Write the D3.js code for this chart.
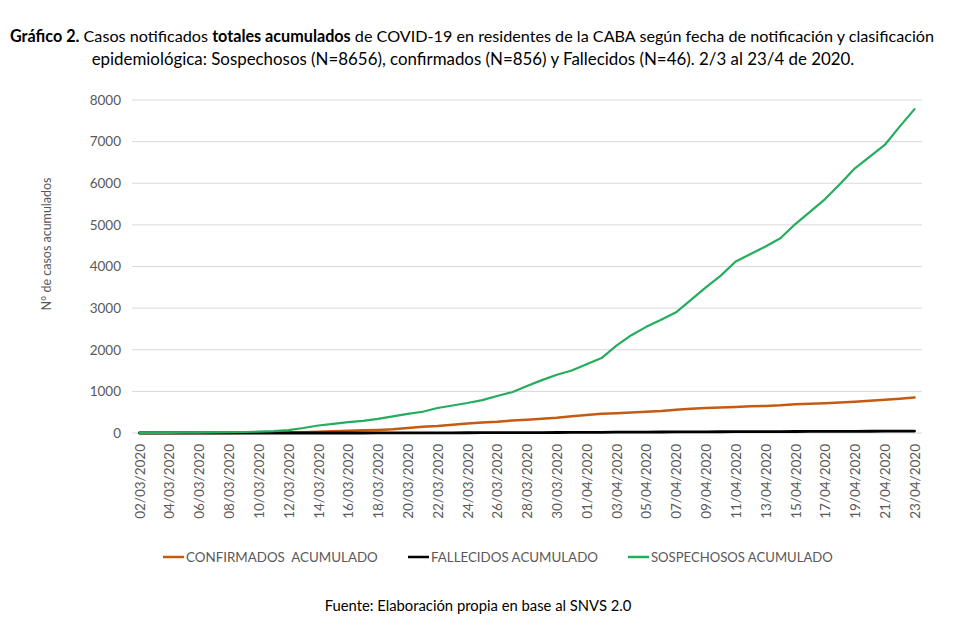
<!DOCTYPE html>
<html><head><meta charset="utf-8">
<script src="https://cdn.jsdelivr.net/npm/d3@7"></script>
<style>
body{margin:0;background:#fff}
svg{display:block}
text{font-family:Lato,"Open Sans","Noto Sans",sans-serif}
</style>
</head><body>
<svg id="c" width="960" height="640"></svg>
<script>
const dates = [
 "02/03/2020","03/03/2020","04/03/2020","05/03/2020","06/03/2020","07/03/2020","08/03/2020","09/03/2020",
 "10/03/2020","11/03/2020","12/03/2020","13/03/2020","14/03/2020","15/03/2020","16/03/2020","17/03/2020",
 "18/03/2020","19/03/2020","20/03/2020","21/03/2020","22/03/2020","23/03/2020","24/03/2020","25/03/2020",
 "26/03/2020","27/03/2020","28/03/2020","29/03/2020","30/03/2020","31/03/2020","01/04/2020","02/04/2020",
 "03/04/2020","04/04/2020","05/04/2020","06/04/2020","07/04/2020","08/04/2020","09/04/2020","10/04/2020",
 "11/04/2020","12/04/2020","13/04/2020","14/04/2020","15/04/2020","16/04/2020","17/04/2020","18/04/2020",
 "19/04/2020","20/04/2020","21/04/2020","22/04/2020","23/04/2020"];
const sospechosos = [0,1,3,6,10,14,18,24,32,45,70,120,180,220,260,290,340,400,460,510,600,660,720,790,
 890,980,1130,1270,1400,1500,1650,1800,2100,2350,2550,2720,2900,3200,3500,3780,4120,4300,4480,4680,
 5020,5320,5620,5980,6360,6640,6920,7360,7780];
const confirmados = [0,0,0,0,0,1,2,4,6,10,14,20,30,40,55,65,75,90,120,150,170,200,230,250,270,300,320,
 340,365,400,430,460,475,490,510,530,560,580,600,610,625,640,650,665,690,700,715,730,750,775,800,825,850];
const fallecidos = [0,0,0,0,0,0,0,0,0,0,0,0,0,0,0,0,1,2,3,4,4,5,6,7,8,9,10,11,12,13,15,17,19,20,22,24,
 25,27,29,30,31,33,34,35,36,38,39,40,41,42,43,44,46];
const yTicks = [0,1000,2000,3000,4000,5000,6000,7000,8000];
const legendLabels = ["CONFIRMADOS  ACUMULADO","FALLECIDOS ACUMULADO","SOSPECHOSOS ACUMULADO"];
const colors = ["#c55a11","#000000","#23ad5c"];

const svg = d3.select("#c");
function fit(sel, target){
  const w = sel.node().getComputedTextLength();
  const fs = parseFloat(sel.attr("font-size"));
  sel.attr("font-size", fs*target/w);
}

// Title
const t1 = svg.append("text").attr("x",10).attr("y",42).attr("font-size",15).attr("fill","#000");
t1.append("tspan").attr("font-weight","bold").text("Gráfico 2.");
t1.append("tspan").text(" Casos notificados ");
t1.append("tspan").attr("font-weight","bold").text("totales acumulados");
t1.append("tspan").text(" de COVID-19 en residentes de la CABA según fecha de notificación y clasificación");
fit(t1, 925);
const t2 = svg.append("text").attr("x",473).attr("y",65).attr("text-anchor","middle").attr("font-size",15).attr("fill","#000")
  .text("epidemiológica: Sospechosos (N=8656), confirmados (N=856) y Fallecidos (N=46). 2/3 al 23/4 de 2020.");
fit(t2, 763);

// Scales
const x = d3.scalePoint().domain(dates).range([132,922]).padding(0.5);
const y = d3.scaleLinear().domain([0,8000]).range([433,100]);

// Grid
svg.append("g").selectAll("line").data(yTicks).join("line")
  .attr("x1",132).attr("x2",922).attr("y1",d=>y(d)).attr("y2",d=>y(d))
  .attr("stroke","#d9d9d9").attr("stroke-width",1);

// Y axis labels
const yAxis = svg.append("g").attr("transform","translate(121,0)")
  .call(d3.axisLeft(y).tickValues(yTicks).tickSize(0).tickPadding(0).tickFormat(d3.format("d")));
yAxis.select(".domain").remove();
yAxis.selectAll("text").attr("font-size",13.5).attr("fill","#595959").attr("font-family","Lato,'Open Sans',sans-serif");

const yt = svg.append("text").attr("transform","translate(51,244) rotate(-90)").attr("text-anchor","middle")
  .attr("font-size",13).attr("fill","#595959").text("N° de casos acumulados");
fit(yt, 133);

// X axis labels
const xAxis = svg.append("g").attr("transform","translate(0,438)")
  .call(d3.axisBottom(x).tickValues(dates.filter((d,i)=>i%2===0)).tickSize(0).tickPadding(0));
xAxis.select(".domain").remove();
xAxis.selectAll("text").attr("font-size",13.5).attr("fill","#595959").attr("font-family","Lato,'Open Sans',sans-serif")
  .attr("text-anchor","end").attr("transform","rotate(-90)").attr("dy","0.35em").attr("x",-6).attr("y",0);

// Lines
const line = d3.line().x((d,i)=>x(dates[i])).y(d=>y(d));
const series = [confirmados, fallecidos, sospechosos];
const widths = [2.5, 2.8, 2.2];
series.forEach((s,k)=>{
  svg.append("path").datum(s).attr("d",line).attr("fill","none")
    .attr("stroke",colors[k]).attr("stroke-width",widths[k]).attr("stroke-linejoin","round").attr("stroke-linecap","round");
});

// Legend
const legX = [163,408,628];
const legEnd = [378,598,833];
legendLabels.forEach((lab,k)=>{
  svg.append("line").attr("x1",legX[k]).attr("x2",legX[k]+21).attr("y1",557).attr("y2",557)
    .attr("stroke",colors[k]).attr("stroke-width",2.5);
  const tx = svg.append("text").attr("x",legX[k]+23).attr("y",562).attr("font-size",13.5)
    .attr("fill","#595959").style("white-space","pre").text(lab);
  fit(tx, legEnd[k]-legX[k]-23);
});

// Footer
const ft = svg.append("text").attr("x",478).attr("y",611).attr("text-anchor","middle").attr("font-size",13)
  .attr("fill","#000").text("Fuente: Elaboración propia en base al SNVS 2.0");
fit(ft, 307);
</script>
</body></html>
